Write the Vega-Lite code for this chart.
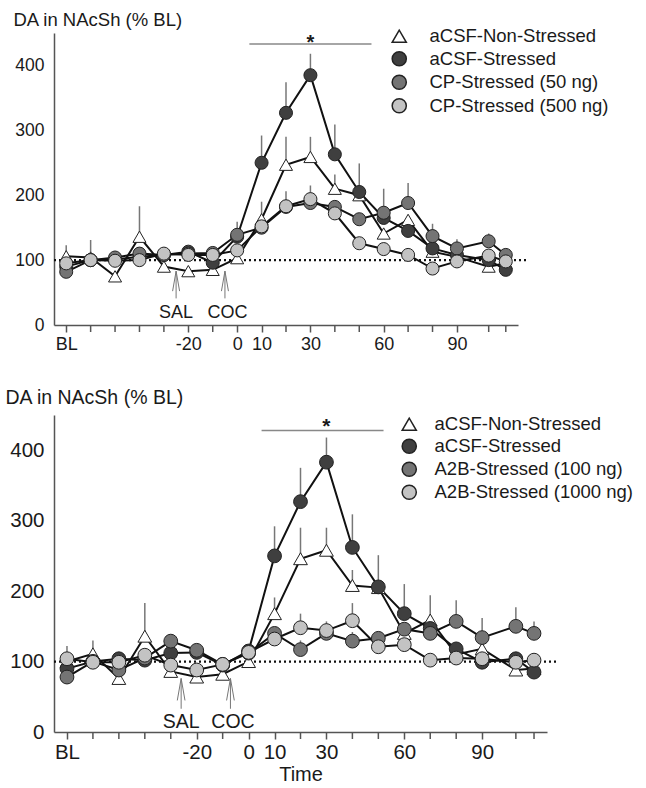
{
  "$schema": "https://vega.github.io/schema/vega-lite/v6.json",
  "background": "white",
  "padding": {"left": 5, "top": 10, "right": 5, "bottom": 5},
  "config": {
    "font": "Liberation Sans",
    "view": {"stroke": null},
    "axis": {"grid": false, "domainColor": "#555", "domainWidth": 1.5, "labelColor": "#1a1a1a", "titleColor": "#1a1a1a", "titleFontWeight": "normal"}
  },
  "datasets": {
    "top": [
      {"s": "aCSF-Non-Stressed", "t": -70, "v": 106, "hi": 123},
      {"s": "aCSF-Non-Stressed", "t": -60, "v": 104, "hi": 131},
      {"s": "aCSF-Non-Stressed", "t": -50, "v": 75, "hi": null},
      {"s": "aCSF-Non-Stressed", "t": -40, "v": 136, "hi": 183},
      {"s": "aCSF-Non-Stressed", "t": -30, "v": 90, "hi": null},
      {"s": "aCSF-Non-Stressed", "t": -20, "v": 83, "hi": null},
      {"s": "aCSF-Non-Stressed", "t": -10, "v": 85, "hi": null},
      {"s": "aCSF-Non-Stressed", "t": 0, "v": 103, "hi": null},
      {"s": "aCSF-Non-Stressed", "t": 10, "v": 163, "hi": 190},
      {"s": "aCSF-Non-Stressed", "t": 20, "v": 247, "hi": 290},
      {"s": "aCSF-Non-Stressed", "t": 30, "v": 259, "hi": 290},
      {"s": "aCSF-Non-Stressed", "t": 40, "v": 210, "hi": 232},
      {"s": "aCSF-Non-Stressed", "t": 50, "v": 200, "hi": null},
      {"s": "aCSF-Non-Stressed", "t": 60, "v": 141, "hi": null},
      {"s": "aCSF-Non-Stressed", "t": 70, "v": 162, "hi": null},
      {"s": "aCSF-Non-Stressed", "t": 80, "v": 113, "hi": null},
      {"s": "aCSF-Non-Stressed", "t": 90, "v": 105, "hi": null},
      {"s": "aCSF-Non-Stressed", "t": 103, "v": 90, "hi": null},
      {"s": "aCSF-Non-Stressed", "t": 110, "v": 95, "hi": null},
      {"s": "aCSF-Stressed", "t": -70, "v": 90, "hi": null},
      {"s": "aCSF-Stressed", "t": -60, "v": 100, "hi": null},
      {"s": "aCSF-Stressed", "t": -50, "v": 101, "hi": null},
      {"s": "aCSF-Stressed", "t": -40, "v": 105, "hi": null},
      {"s": "aCSF-Stressed", "t": -30, "v": 108, "hi": null},
      {"s": "aCSF-Stressed", "t": -20, "v": 113, "hi": null},
      {"s": "aCSF-Stressed", "t": -10, "v": 96, "hi": null},
      {"s": "aCSF-Stressed", "t": 0, "v": 136, "hi": null},
      {"s": "aCSF-Stressed", "t": 10, "v": 250, "hi": 292},
      {"s": "aCSF-Stressed", "t": 20, "v": 327, "hi": 374},
      {"s": "aCSF-Stressed", "t": 30, "v": 385, "hi": 418},
      {"s": "aCSF-Stressed", "t": 40, "v": 263, "hi": 309},
      {"s": "aCSF-Stressed", "t": 50, "v": 205, "hi": 249},
      {"s": "aCSF-Stressed", "t": 60, "v": 165, "hi": null},
      {"s": "aCSF-Stressed", "t": 70, "v": 145, "hi": null},
      {"s": "aCSF-Stressed", "t": 80, "v": 118, "hi": null},
      {"s": "aCSF-Stressed", "t": 90, "v": 108, "hi": null},
      {"s": "aCSF-Stressed", "t": 103, "v": 100, "hi": null},
      {"s": "aCSF-Stressed", "t": 110, "v": 85, "hi": null},
      {"s": "CP-Stressed (50 ng)", "t": -70, "v": 82, "hi": null},
      {"s": "CP-Stressed (50 ng)", "t": -60, "v": 100, "hi": null},
      {"s": "CP-Stressed (50 ng)", "t": -50, "v": 104, "hi": null},
      {"s": "CP-Stressed (50 ng)", "t": -40, "v": 110, "hi": null},
      {"s": "CP-Stressed (50 ng)", "t": -30, "v": 108, "hi": null},
      {"s": "CP-Stressed (50 ng)", "t": -20, "v": 110, "hi": null},
      {"s": "CP-Stressed (50 ng)", "t": -10, "v": 111, "hi": null},
      {"s": "CP-Stressed (50 ng)", "t": 0, "v": 139, "hi": 159},
      {"s": "CP-Stressed (50 ng)", "t": 10, "v": 150, "hi": null},
      {"s": "CP-Stressed (50 ng)", "t": 20, "v": 182, "hi": null},
      {"s": "CP-Stressed (50 ng)", "t": 30, "v": 188, "hi": null},
      {"s": "CP-Stressed (50 ng)", "t": 40, "v": 182, "hi": null},
      {"s": "CP-Stressed (50 ng)", "t": 50, "v": 163, "hi": null},
      {"s": "CP-Stressed (50 ng)", "t": 60, "v": 173, "hi": 210},
      {"s": "CP-Stressed (50 ng)", "t": 70, "v": 188, "hi": 219},
      {"s": "CP-Stressed (50 ng)", "t": 80, "v": 137, "hi": 156},
      {"s": "CP-Stressed (50 ng)", "t": 90, "v": 118, "hi": 132},
      {"s": "CP-Stressed (50 ng)", "t": 103, "v": 129, "hi": 141},
      {"s": "CP-Stressed (50 ng)", "t": 110, "v": 108, "hi": null},
      {"s": "CP-Stressed (500 ng)", "t": -70, "v": 95, "hi": null},
      {"s": "CP-Stressed (500 ng)", "t": -60, "v": 100, "hi": null},
      {"s": "CP-Stressed (500 ng)", "t": -50, "v": 99, "hi": null},
      {"s": "CP-Stressed (500 ng)", "t": -40, "v": 100, "hi": null},
      {"s": "CP-Stressed (500 ng)", "t": -30, "v": 110, "hi": null},
      {"s": "CP-Stressed (500 ng)", "t": -20, "v": 108, "hi": null},
      {"s": "CP-Stressed (500 ng)", "t": -10, "v": 108, "hi": null},
      {"s": "CP-Stressed (500 ng)", "t": 0, "v": 115, "hi": null},
      {"s": "CP-Stressed (500 ng)", "t": 10, "v": 152, "hi": null},
      {"s": "CP-Stressed (500 ng)", "t": 20, "v": 183, "hi": 206},
      {"s": "CP-Stressed (500 ng)", "t": 30, "v": 194, "hi": 215},
      {"s": "CP-Stressed (500 ng)", "t": 40, "v": 172, "hi": null},
      {"s": "CP-Stressed (500 ng)", "t": 50, "v": 126, "hi": null},
      {"s": "CP-Stressed (500 ng)", "t": 60, "v": 117, "hi": null},
      {"s": "CP-Stressed (500 ng)", "t": 70, "v": 108, "hi": null},
      {"s": "CP-Stressed (500 ng)", "t": 80, "v": 87, "hi": null},
      {"s": "CP-Stressed (500 ng)", "t": 90, "v": 98, "hi": null},
      {"s": "CP-Stressed (500 ng)", "t": 103, "v": 107, "hi": null},
      {"s": "CP-Stressed (500 ng)", "t": 110, "v": 98, "hi": null}
    ],
    "bot": [
      {"s": "aCSF-Non-Stressed", "t": -70, "v": 100, "hi": null},
      {"s": "aCSF-Non-Stressed", "t": -60, "v": 111, "hi": 130},
      {"s": "aCSF-Non-Stressed", "t": -50, "v": 76, "hi": null},
      {"s": "aCSF-Non-Stressed", "t": -40, "v": 136, "hi": 183},
      {"s": "aCSF-Non-Stressed", "t": -30, "v": 86, "hi": null},
      {"s": "aCSF-Non-Stressed", "t": -20, "v": 78, "hi": null},
      {"s": "aCSF-Non-Stressed", "t": -10, "v": 82, "hi": null},
      {"s": "aCSF-Non-Stressed", "t": 0, "v": 100, "hi": null},
      {"s": "aCSF-Non-Stressed", "t": 10, "v": 168, "hi": 191},
      {"s": "aCSF-Non-Stressed", "t": 20, "v": 246, "hi": 290},
      {"s": "aCSF-Non-Stressed", "t": 30, "v": 258, "hi": 290},
      {"s": "aCSF-Non-Stressed", "t": 40, "v": 208, "hi": 230},
      {"s": "aCSF-Non-Stressed", "t": 50, "v": 205, "hi": null},
      {"s": "aCSF-Non-Stressed", "t": 60, "v": 140, "hi": null},
      {"s": "aCSF-Non-Stressed", "t": 70, "v": 159, "hi": 194},
      {"s": "aCSF-Non-Stressed", "t": 80, "v": 110, "hi": null},
      {"s": "aCSF-Non-Stressed", "t": 90, "v": 118, "hi": null},
      {"s": "aCSF-Non-Stressed", "t": 103, "v": 88, "hi": null},
      {"s": "aCSF-Non-Stressed", "t": 110, "v": 90, "hi": null},
      {"s": "aCSF-Stressed", "t": -70, "v": 90, "hi": null},
      {"s": "aCSF-Stressed", "t": -60, "v": 100, "hi": null},
      {"s": "aCSF-Stressed", "t": -50, "v": 104, "hi": null},
      {"s": "aCSF-Stressed", "t": -40, "v": 102, "hi": null},
      {"s": "aCSF-Stressed", "t": -30, "v": 112, "hi": null},
      {"s": "aCSF-Stressed", "t": -20, "v": 113, "hi": null},
      {"s": "aCSF-Stressed", "t": -10, "v": 95, "hi": null},
      {"s": "aCSF-Stressed", "t": 0, "v": 115, "hi": null},
      {"s": "aCSF-Stressed", "t": 10, "v": 250, "hi": 292},
      {"s": "aCSF-Stressed", "t": 20, "v": 327, "hi": 375},
      {"s": "aCSF-Stressed", "t": 30, "v": 383, "hi": 418},
      {"s": "aCSF-Stressed", "t": 40, "v": 262, "hi": 309},
      {"s": "aCSF-Stressed", "t": 50, "v": 206, "hi": 251},
      {"s": "aCSF-Stressed", "t": 60, "v": 168, "hi": 210},
      {"s": "aCSF-Stressed", "t": 70, "v": 147, "hi": null},
      {"s": "aCSF-Stressed", "t": 80, "v": 118, "hi": null},
      {"s": "aCSF-Stressed", "t": 90, "v": 99, "hi": null},
      {"s": "aCSF-Stressed", "t": 103, "v": 104, "hi": null},
      {"s": "aCSF-Stressed", "t": 110, "v": 85, "hi": null},
      {"s": "A2B-Stressed (100 ng)", "t": -70, "v": 78, "hi": null},
      {"s": "A2B-Stressed (100 ng)", "t": -60, "v": 100, "hi": null},
      {"s": "A2B-Stressed (100 ng)", "t": -50, "v": 88, "hi": null},
      {"s": "A2B-Stressed (100 ng)", "t": -40, "v": 105, "hi": null},
      {"s": "A2B-Stressed (100 ng)", "t": -30, "v": 129, "hi": null},
      {"s": "A2B-Stressed (100 ng)", "t": -20, "v": 116, "hi": null},
      {"s": "A2B-Stressed (100 ng)", "t": -10, "v": 96, "hi": null},
      {"s": "A2B-Stressed (100 ng)", "t": 0, "v": 112, "hi": null},
      {"s": "A2B-Stressed (100 ng)", "t": 10, "v": 140, "hi": null},
      {"s": "A2B-Stressed (100 ng)", "t": 20, "v": 117, "hi": 130},
      {"s": "A2B-Stressed (100 ng)", "t": 30, "v": 140, "hi": null},
      {"s": "A2B-Stressed (100 ng)", "t": 40, "v": 129, "hi": 142},
      {"s": "A2B-Stressed (100 ng)", "t": 50, "v": 133, "hi": 142},
      {"s": "A2B-Stressed (100 ng)", "t": 60, "v": 146, "hi": null},
      {"s": "A2B-Stressed (100 ng)", "t": 70, "v": 140, "hi": null},
      {"s": "A2B-Stressed (100 ng)", "t": 80, "v": 157, "hi": 187},
      {"s": "A2B-Stressed (100 ng)", "t": 90, "v": 134, "hi": 162},
      {"s": "A2B-Stressed (100 ng)", "t": 103, "v": 150, "hi": 177},
      {"s": "A2B-Stressed (100 ng)", "t": 110, "v": 140, "hi": 157},
      {"s": "A2B-Stressed (1000 ng)", "t": -70, "v": 104, "hi": 122},
      {"s": "A2B-Stressed (1000 ng)", "t": -60, "v": 99, "hi": null},
      {"s": "A2B-Stressed (1000 ng)", "t": -50, "v": 99, "hi": null},
      {"s": "A2B-Stressed (1000 ng)", "t": -40, "v": 109, "hi": null},
      {"s": "A2B-Stressed (1000 ng)", "t": -30, "v": 95, "hi": null},
      {"s": "A2B-Stressed (1000 ng)", "t": -20, "v": 88, "hi": null},
      {"s": "A2B-Stressed (1000 ng)", "t": -10, "v": 96, "hi": null},
      {"s": "A2B-Stressed (1000 ng)", "t": 0, "v": 113, "hi": null},
      {"s": "A2B-Stressed (1000 ng)", "t": 10, "v": 132, "hi": null},
      {"s": "A2B-Stressed (1000 ng)", "t": 20, "v": 148, "hi": 168},
      {"s": "A2B-Stressed (1000 ng)", "t": 30, "v": 144, "hi": 157},
      {"s": "A2B-Stressed (1000 ng)", "t": 40, "v": 158, "hi": 183},
      {"s": "A2B-Stressed (1000 ng)", "t": 50, "v": 121, "hi": null},
      {"s": "A2B-Stressed (1000 ng)", "t": 60, "v": 124, "hi": null},
      {"s": "A2B-Stressed (1000 ng)", "t": 70, "v": 102, "hi": null},
      {"s": "A2B-Stressed (1000 ng)", "t": 80, "v": 105, "hi": null},
      {"s": "A2B-Stressed (1000 ng)", "t": 90, "v": 104, "hi": null},
      {"s": "A2B-Stressed (1000 ng)", "t": 103, "v": 99, "hi": null},
      {"s": "A2B-Stressed (1000 ng)", "t": 110, "v": 102, "hi": null}
    ],
    "minorticks": [
      {"t": -60}, {"t": -50}, {"t": -40}, {"t": -30}, {"t": -10}, {"t": 20}, {"t": 40}, {"t": 50}, {"t": 70}, {"t": 80}, {"t": 103}, {"t": 110}
    ]
  },
  "spacing": 34,
  "resolve": {"scale": {"fill": "independent", "shape": "independent"}, "legend": {"fill": "independent", "shape": "independent"}},
  "vconcat": [
    {
      "width": 464,
      "height": 292,
      "layer": [
        {
          "data": {"values": [{}]},
          "mark": {"type": "rule", "strokeDash": [2, 3], "strokeWidth": 2.2, "color": "#111"},
          "encoding": {
            "x": {"datum": -75, "type": "quantitative", "scale": {"domain": [-75, 115], "nice": false, "zero": false}},
            "x2": {"datum": 119},
            "y": {"datum": 100, "type": "quantitative", "scale": {"domain": [0, 450], "nice": false}}
          }
        },
        {
          "data": {"name": "minorticks"},
          "mark": {"type": "rule", "color": "#555", "strokeWidth": 1.5},
          "encoding": {"x": {"field": "t", "type": "quantitative"}, "y": {"datum": 0, "type": "quantitative"}, "y2": {"datum": -10.8}}
        },
        {
          "data": {"name": "top"},
          "transform": [{"filter": "datum.hi != null"}],
          "mark": {"type": "rule", "color": "#777", "strokeWidth": 1.5},
          "encoding": {
            "x": {"field": "t", "type": "quantitative"},
            "y": {"field": "v", "type": "quantitative"},
            "y2": {"field": "hi"}
          }
        },
        {
          "data": {"name": "top"},
          "mark": {"type": "line", "color": "#111", "strokeWidth": 2},
          "encoding": {
            "x": {"field": "t", "type": "quantitative"},
            "y": {"field": "v", "type": "quantitative"},
            "detail": {"field": "s"}
          }
        },
        {
          "data": {"name": "top"},
          "mark": {"type": "point", "filled": true, "stroke": "#222", "strokeWidth": 1, "size": 170, "opacity": 1},
          "encoding": {
            "x": {"field": "t", "type": "quantitative",
              "axis": {"values": [-70, -20, 0, 10, 30, 60, 90],
                "labelExpr": "datum.value == -70 ? 'BL' : '' + datum.value",
                "ticks": true, "tickSize": 7, "tickColor": "#555", "tickWidth": 1.5, "labelFontSize": 18, "labelPadding": 3,
                "labelOverlap": false, "labelFlush": false, "labelBound": false, "title": null}},
            "y": {"field": "v", "type": "quantitative",
              "axis": {"values": [0, 100, 200, 300, 400], "ticks": false, "labelPadding": 10, "labelFontSize": 17.5,
                "title": "DA in NAcSh (% BL)", "titleAngle": 0, "titleAlign": "left", "titleBaseline": "alphabetic",
                "titleX": -41, "titleY": -8, "titleFontSize": 18.5}},
            "fill": {"field": "s", "type": "nominal",
              "scale": {"domain": ["aCSF-Non-Stressed", "aCSF-Stressed", "CP-Stressed (50 ng)", "CP-Stressed (500 ng)"], "range": ["#ffffff", "#3f3f3f", "#747474", "#c3c3c3"]},
              "legend": {"orient": "none", "legendX": 336, "legendY": -6, "title": null, "labelFontSize": 18.5, "labelColor": "#1a1a1a", "labelLimit": 400, "symbolSize": 200, "rowPadding": 2.5, "labelOffset": 21,
                "encode": {"symbols": {"update": {"stroke": {"value": "#222"}, "strokeWidth": {"value": 1}, "opacity": {"value": 1}}}}}},
            "shape": {"field": "s", "type": "nominal",
              "scale": {"domain": ["aCSF-Non-Stressed", "aCSF-Stressed", "CP-Stressed (50 ng)", "CP-Stressed (500 ng)"], "range": ["triangle-up", "circle", "circle", "circle"]},
              "legend": {"orient": "none", "legendX": 336, "legendY": -6, "title": null, "labelFontSize": 18.5, "labelColor": "#1a1a1a", "labelLimit": 400, "symbolSize": 200, "rowPadding": 2.5, "labelOffset": 21,
                "encode": {"symbols": {"update": {"stroke": {"value": "#222"}, "strokeWidth": {"value": 1}, "opacity": {"value": 1}}}}}}
          }
        },
        {
          "data": {"values": [{}]},
          "mark": {"type": "rule", "color": "#888", "strokeWidth": 1.5},
          "encoding": {"x": {"datum": 5, "type": "quantitative"}, "x2": {"datum": 55}, "y": {"datum": 433, "type": "quantitative"}}
        },
        {
          "data": {"values": [{}]},
          "mark": {"type": "text", "text": "*", "fontSize": 20, "fontWeight": "bold", "color": "#1a1a1a", "baseline": "alphabetic"},
          "encoding": {"x": {"datum": 30, "type": "quantitative"}, "y": {"datum": 426, "type": "quantitative"}}
        },
        {
          "data": {"values": [{"t": -25, "lab": "SAL"}, {"t": -5, "lab": "COC"}]},
          "mark": {"type": "rule", "color": "#777", "strokeWidth": 1},
          "encoding": {"x": {"field": "t", "type": "quantitative"}, "y": {"datum": 41, "type": "quantitative"}, "y2": {"datum": 83}}
        },
        {
          "data": {"values": [{"t": -25, "lab": "SAL"}, {"t": -5, "lab": "COC"}]},
          "mark": {"type": "point", "shape": "M -0.35 1 L 0 -1 L 0.35 1", "filled": false, "stroke": "#777", "strokeWidth": 1, "size": 400, "opacity": 1},
          "encoding": {"x": {"field": "t", "type": "quantitative"}, "y": {"datum": 67.6, "type": "quantitative"}}
        },
        {
          "data": {"values": [{"t": -25, "lab": "SAL"}, {"t": -4, "lab": "COC"}]},
          "mark": {"type": "text", "fontSize": 18, "color": "#1a1a1a", "baseline": "middle"},
          "encoding": {"x": {"field": "t", "type": "quantitative"}, "y": {"datum": 18, "type": "quantitative"}, "text": {"field": "lab"}}
        }
      ]
    },
    {
      "width": 493,
      "height": 317,
      "layer": [
        {
          "data": {"values": [{}]},
          "mark": {"type": "rule", "strokeDash": [2, 3], "strokeWidth": 2.2, "color": "#111"},
          "encoding": {
            "x": {"datum": -75, "type": "quantitative", "scale": {"domain": [-75, 115], "nice": false, "zero": false}},
            "x2": {"datum": 119},
            "y": {"datum": 100, "type": "quantitative", "scale": {"domain": [0, 450], "nice": false}}
          }
        },
        {
          "data": {"name": "minorticks"},
          "mark": {"type": "rule", "color": "#555", "strokeWidth": 1.5},
          "encoding": {"x": {"field": "t", "type": "quantitative"}, "y": {"datum": 0, "type": "quantitative"}, "y2": {"datum": -9.9}}
        },
        {
          "data": {"name": "bot"},
          "transform": [{"filter": "datum.hi != null"}],
          "mark": {"type": "rule", "color": "#777", "strokeWidth": 1.5},
          "encoding": {
            "x": {"field": "t", "type": "quantitative"},
            "y": {"field": "v", "type": "quantitative"},
            "y2": {"field": "hi"}
          }
        },
        {
          "data": {"name": "bot"},
          "mark": {"type": "line", "color": "#111", "strokeWidth": 2},
          "encoding": {
            "x": {"field": "t", "type": "quantitative"},
            "y": {"field": "v", "type": "quantitative"},
            "detail": {"field": "s"}
          }
        },
        {
          "data": {"name": "bot"},
          "mark": {"type": "point", "filled": true, "stroke": "#222", "strokeWidth": 1, "size": 190, "opacity": 1},
          "encoding": {
            "x": {"field": "t", "type": "quantitative",
              "axis": {"values": [-70, -20, 0, 10, 30, 60, 90],
                "labelExpr": "datum.value == -70 ? 'BL' : '' + datum.value",
                "ticks": true, "tickSize": 7, "tickColor": "#555", "tickWidth": 1.5, "labelFontSize": 20.5, "labelPadding": 3,
                "labelOverlap": false, "labelFlush": false, "labelBound": false, "title": "Time", "titleFontSize": 20, "titlePadding": 2}},
            "y": {"field": "v", "type": "quantitative",
              "axis": {"values": [0, 100, 200, 300, 400], "ticks": false, "labelPadding": 10, "labelFontSize": 20.5,
                "title": "DA in NAcSh (% BL)", "titleAngle": 0, "titleAlign": "left", "titleBaseline": "alphabetic",
                "titleX": -49, "titleY": -12, "titleFontSize": 19.5}},
            "fill": {"field": "s", "type": "nominal",
              "scale": {"domain": ["aCSF-Non-Stressed", "aCSF-Stressed", "A2B-Stressed (100 ng)", "A2B-Stressed (1000 ng)"], "range": ["#ffffff", "#3f3f3f", "#747474", "#c3c3c3"]},
              "legend": {"orient": "none", "legendX": 346, "legendY": 0, "title": null, "labelFontSize": 18.5, "labelColor": "#1a1a1a", "labelLimit": 400, "symbolSize": 200, "rowPadding": 2, "labelOffset": 16,
                "encode": {"symbols": {"update": {"stroke": {"value": "#222"}, "strokeWidth": {"value": 1}, "opacity": {"value": 1}}}}}},
            "shape": {"field": "s", "type": "nominal",
              "scale": {"domain": ["aCSF-Non-Stressed", "aCSF-Stressed", "A2B-Stressed (100 ng)", "A2B-Stressed (1000 ng)"], "range": ["triangle-up", "circle", "circle", "circle"]},
              "legend": {"orient": "none", "legendX": 346, "legendY": 0, "title": null, "labelFontSize": 18.5, "labelColor": "#1a1a1a", "labelLimit": 400, "symbolSize": 200, "rowPadding": 2, "labelOffset": 16,
                "encode": {"symbols": {"update": {"stroke": {"value": "#222"}, "strokeWidth": {"value": 1}, "opacity": {"value": 1}}}}}}
          }
        },
        {
          "data": {"values": [{}]},
          "mark": {"type": "rule", "color": "#888", "strokeWidth": 1.5},
          "encoding": {"x": {"datum": 5, "type": "quantitative"}, "x2": {"datum": 52}, "y": {"datum": 428, "type": "quantitative"}}
        },
        {
          "data": {"values": [{}]},
          "mark": {"type": "text", "text": "*", "fontSize": 21, "fontWeight": "bold", "color": "#1a1a1a", "baseline": "alphabetic"},
          "encoding": {"x": {"datum": 30, "type": "quantitative"}, "y": {"datum": 425, "type": "quantitative"}}
        },
        {
          "data": {"values": [{"t": -26, "lab": "SAL"}, {"t": -7, "lab": "COC"}]},
          "mark": {"type": "rule", "color": "#777", "strokeWidth": 1},
          "encoding": {"x": {"field": "t", "type": "quantitative"}, "y": {"datum": 33, "type": "quantitative"}, "y2": {"datum": 76}}
        },
        {
          "data": {"values": [{"t": -26, "lab": "SAL"}, {"t": -7, "lab": "COC"}]},
          "mark": {"type": "point", "shape": "M -0.35 1 L 0 -1 L 0.35 1", "filled": false, "stroke": "#777", "strokeWidth": 1, "size": 484, "opacity": 1},
          "encoding": {"x": {"field": "t", "type": "quantitative"}, "y": {"datum": 60.4, "type": "quantitative"}}
        },
        {
          "data": {"values": [{"t": -26, "lab": "SAL"}, {"t": -6, "lab": "COC"}]},
          "mark": {"type": "text", "fontSize": 19.5, "color": "#1a1a1a", "baseline": "middle"},
          "encoding": {"x": {"field": "t", "type": "quantitative"}, "y": {"datum": 14, "type": "quantitative"}, "text": {"field": "lab"}}
        }
      ]
    }
  ]
}
